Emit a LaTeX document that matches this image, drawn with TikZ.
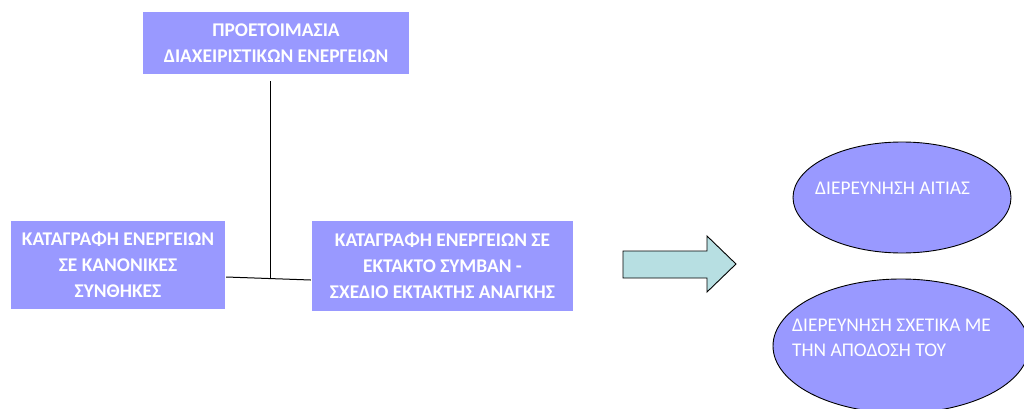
\documentclass[tikz,border=0pt]{standalone}
\usepackage{fontspec}
\setmainfont{Carlito}
\usetikzlibrary{shapes.geometric,calc}
\definecolor{boxblue}{HTML}{9999FF}
\definecolor{arrowcyan}{HTML}{B7DFE2}
\tikzset{
  stepbox/.style={rectangle, fill=boxblue, text=white, font=\bfseries\fontsize{19.4}{26}\selectfont,
    align=center, inner sep=0pt},
  oval/.style={ellipse, draw=black, line width=0.9pt, fill=boxblue, inner sep=0pt},
  ovaltext/.style={text=white, font=\fontsize{19.4}{25}\selectfont, align=left, inner sep=0pt, anchor=west},
  link/.style={draw=black, line width=1pt}
}
\begin{document}
\begin{tikzpicture}[x=1pt,y=-1pt]
\useasboundingbox (0,0) rectangle (1024,409);
\clip (0,0) rectangle (1024,409);

% process boxes
\node[stepbox, minimum width=266pt, minimum height=62pt] (prep) at (276,43)
  {ΠΡΟΕΤΟΙΜΑΣΙΑ\\ΔΙΑΧΕΙΡΙΣΤΙΚΩΝ ΕΝΕΡΓΕΙΩΝ};
\node[stepbox, minimum width=214pt, minimum height=88pt] (normal) at (118,265)
  {ΚΑΤΑΓΡΑΦΗ ΕΝΕΡΓΕΙΩΝ\\ΣΕ ΚΑΝΟΝΙΚΕΣ\\ΣΥΝΘΗΚΕΣ};
\node[stepbox, minimum width=261pt, minimum height=90pt] (emerg) at (442.5,266)
  {ΚΑΤΑΓΡΑΦΗ ΕΝΕΡΓΕΙΩΝ ΣΕ\\ΕΚΤΑΚΤΟ ΣΥΜΒΑΝ -\\ΣΧΕΔΙΟ ΕΚΤΑΚΤΗΣ ΑΝΑΓΚΗΣ};

% connectors
\coordinate (joint) at (270,278);
\draw[link] ($(prep.south -| joint)+(0,7)$) -- (joint);
\draw[link] ($(normal.east)+(1,12)$) -- ($(emerg.west)+(-1,14)$);

% block arrow
\draw[fill=arrowcyan, line width=0.9pt, line join=miter]
  (623,251) -- (707,251) -- (707,236) -- (736,264) -- (707,292) -- (707,278) -- (623,278) -- cycle;

% investigation ovals
\node[oval, minimum width=218pt, minimum height=111pt] (cause) at (902,197.5) {};
\node[ovaltext] (causetxt) at ($(cause.center)+(-87,-9.5)$) {ΔΙΕΡΕΥΝΗΣΗ ΑΙΤΙΑΣ};
\node[oval, minimum width=256pt, minimum height=134pt] (perf) at (901,346) {};
\node[ovaltext] (perftxt) at ($(perf.center)+(-109,-8.5)$) {ΔΙΕΡΕΥΝΗΣΗ ΣΧΕΤΙΚΑ ΜΕ\\ΤΗΝ ΑΠΟΔΟΣΗ ΤΟΥ};
\end{tikzpicture}
\end{document}
